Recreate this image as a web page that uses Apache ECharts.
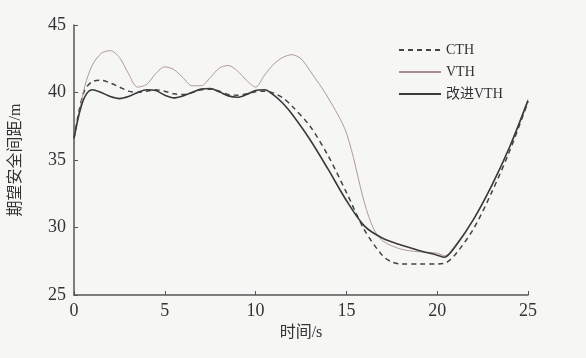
<!DOCTYPE html>
<html>
<head>
<meta charset="utf-8">
<script src="https://cdn.jsdelivr.net/npm/echarts@6/dist/echarts.min.js"></script>
<style>
  html, body { margin: 0; padding: 0; background: #f6f6f5; }
  #box { width: 586px; height: 358px; }
</style>
</head>
<body>
<div id="box"></div>
<script>
// 时间/s
var timeCTH = [0, 0.3, 0.6, 1, 1.5, 2, 2.5, 3, 3.5, 4, 4.5, 5, 5.5, 6, 6.5, 7, 7.5, 8, 8.5, 9, 9.5, 10, 10.5, 11, 11.5, 12, 13, 14, 15, 16, 17, 17.5, 18, 19, 20, 20.5, 21, 22, 23, 24, 25];
var valCTH = [36.6, 38.8, 40.2, 40.8, 40.9, 40.7, 40.4, 40.1, 40.0, 40.1, 40.2, 40.1, 39.9, 39.85, 40.0, 40.2, 40.25, 40.1, 39.85, 39.8, 39.9, 40.05, 40.1, 39.95, 39.6, 39.0, 37.5, 35.3, 32.6, 29.8, 27.9, 27.45, 27.3, 27.3, 27.3, 27.4, 28.0, 29.9, 32.6, 35.7, 39.3];

var timeVTH = [0, 0.3, 0.6, 1, 1.5, 2, 2.5, 3, 3.5, 4, 4.5, 5, 5.5, 6, 6.5, 7, 7.5, 8, 8.5, 9, 9.5, 10, 10.5, 11, 11.5, 12, 12.5, 13, 14, 15, 16, 16.5, 17, 18, 19, 20, 20.4, 21, 22, 23, 24, 25];
var valVTH = [36.6, 38.6, 40.5, 42.0, 42.9, 43.1, 42.6, 41.4, 40.4, 40.6, 41.4, 41.9, 41.7, 41.1, 40.5, 40.5, 41.1, 41.8, 42.0, 41.6, 40.9, 40.4, 41.3, 42.1, 42.6, 42.8, 42.5, 41.6, 39.6, 37.0, 31.8, 29.9, 29.0, 28.4, 28.2, 28.1, 27.9, 28.7, 30.6, 33.1, 36.0, 39.5];

var timeNew = [0, 0.3, 0.6, 1, 1.5, 2, 2.5, 3, 3.5, 4, 4.5, 5, 5.5, 6, 6.5, 7, 7.5, 8, 8.5, 9, 9.5, 10, 10.5, 11, 11.5, 12, 13, 14, 15, 16, 17, 18, 19, 20, 20.4, 21, 22, 23, 24, 25];
var valNew = [36.6, 38.5, 39.7, 40.2, 40.0, 39.7, 39.55, 39.7, 40.0, 40.2, 40.15, 39.8, 39.6, 39.75, 40.0, 40.25, 40.3, 40.05, 39.75, 39.65, 39.85, 40.15, 40.2, 39.8, 39.2, 38.4, 36.5, 34.3, 32.0, 30.1, 29.2, 28.7, 28.3, 27.95, 27.8, 28.6, 30.6, 33.1, 36.0, 39.4];

var names = ["CTH", "VTH", "改进VTH"];

function pairs(t, v) {
  var out = [];
  for (var i = 0; i < t.length; i++) out.push([t[i], v[i]]);
  return out;
}

var serif = "'Liberation Serif', 'Noto Sans CJK SC', serif";
var chart = echarts.init(document.getElementById("box"));
chart.setOption({
  backgroundColor: "#f6f6f5",
  animation: false,
  grid: { left: 66, right: 58, top: 25, bottom: 63 },
  legend: {
    orient: "vertical",
    left: 393,
    top: 38,
    itemWidth: 42,
    itemHeight: 10,
    itemGap: 8,
    itemStyle: { opacity: 0 }, // 只显示线条
    textStyle: { fontFamily: serif, fontSize: 14, color: "#333" },
    data: names
  },
  xAxis: {
    type: "value",
    min: 0,
    max: 25,
    interval: 5,
    name: "时间/s",
    nameLocation: "middle",
    nameGap: 30,
    nameTextStyle: { fontFamily: serif, fontSize: 16, color: "#333" },
    axisLine: { lineStyle: { color: "#555", width: 1.5 } },
    axisTick: { inside: true, length: 4, lineStyle: { color: "#555" } },
    axisLabel: { fontFamily: serif, fontSize: 18, color: "#333", margin: 7 },
    splitLine: { show: false }
  },
  yAxis: {
    type: "value",
    min: 25,
    max: 45,
    interval: 5,
    name: "期望安全间距/m",
    nameLocation: "middle",
    nameGap: 50,
    nameTextStyle: { fontFamily: serif, fontSize: 16, color: "#333" },
    axisLine: { show: true, lineStyle: { color: "#555", width: 1.5 } },
    axisTick: { show: true, inside: true, length: 4, lineStyle: { color: "#555" } },
    axisLabel: { fontFamily: serif, fontSize: 18, color: "#333", margin: 8 },
    splitLine: { show: false }
  },
  series: [
    {
      name: "CTH",
      type: "line",
      smooth: 0.3,
      symbol: "none",
      data: pairs(timeCTH, valCTH),
      lineStyle: { color: "#444", width: 1.5, type: [5, 4] },
      itemStyle: { color: "#444" }
    },
    {
      name: "VTH",
      type: "line",
      smooth: 0.3,
      symbol: "none",
      data: pairs(timeVTH, valVTH),
      lineStyle: { color: "#a88e8e", width: 0.9 },
      itemStyle: { color: "#a88e8e" }
    },
    {
      name: "改进VTH",
      type: "line",
      smooth: 0.3,
      symbol: "none",
      data: pairs(timeNew, valNew),
      lineStyle: { color: "#3a3a3a", width: 1.6 },
      itemStyle: { color: "#3a3a3a" }
    }
  ]
});
</script>
</body>
</html>
